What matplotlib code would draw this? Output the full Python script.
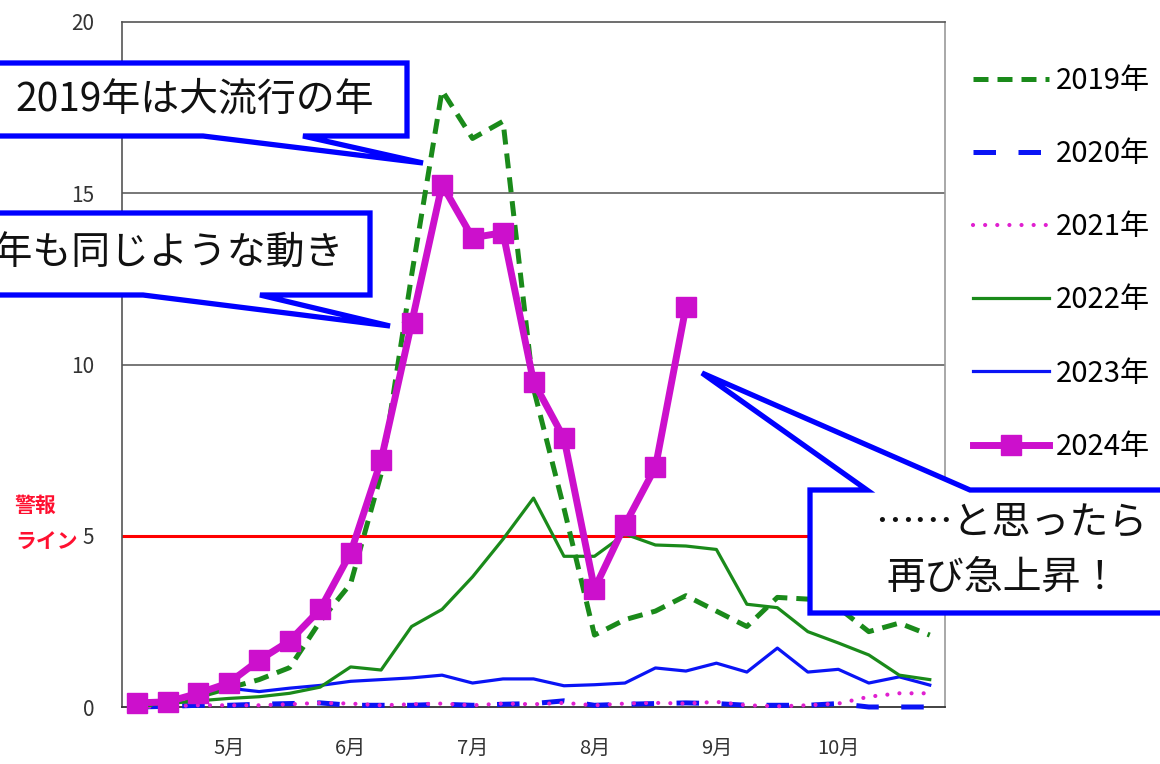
import numpy as np
import matplotlib.pyplot as plt
from matplotlib.patches import Polygon
from matplotlib.lines import Line2D

plt.rcParams['font.family'] = ['Noto Sans CJK JP', 'DejaVu Sans']

# weekly values, early April to late October
y2019 = [0.05, 0.1, 0.3, 0.55, 0.8, 1.15, 2.5, 3.6, 6.8, 12.6, 18.0, 16.6, 17.1, 9.3, 5.8,
         2.1, 2.55, 2.8, 3.25, 2.8, 2.35, 3.2, 3.15, 2.9, 2.2, 2.45, 2.1]
y2020 = [0.0, 0.02, 0.05, 0.05, 0.08, 0.1, 0.12, 0.05, 0.05, 0.05, 0.08, 0.05, 0.08, 0.1, 0.18,
         0.05, 0.08, 0.1, 0.12, 0.1, 0.05, 0.05, 0.05, 0.1, 0.0, 0.0, 0.0]
y2021 = [0.0, 0.02, 0.05, 0.05, 0.05, 0.08, 0.12, 0.1, 0.05, 0.08, 0.1, 0.05, 0.1, 0.08, 0.12,
         0.05, 0.1, 0.12, 0.1, 0.15, 0.05, 0.02, 0.05, 0.1, 0.3, 0.4, 0.4]
y2022 = [0.05, 0.1, 0.18, 0.25, 0.3, 0.4, 0.58, 1.17, 1.08, 2.35, 2.85, 3.8, 4.9, 6.1, 4.4,
         4.4, 5.05, 4.73, 4.7, 4.6, 3.0, 2.9, 2.2, 1.87, 1.52, 0.93, 0.8]
y2023 = [0.1, 0.15, 0.35, 0.55, 0.45, 0.55, 0.63, 0.75, 0.8, 0.85, 0.93, 0.7, 0.82, 0.82, 0.62,
         0.65, 0.7, 1.14, 1.05, 1.28, 1.02, 1.72, 1.02, 1.1, 0.7, 0.88, 0.64]
y2024 = [0.12, 0.15, 0.4, 0.7, 1.37, 1.93, 2.85, 4.5, 7.2, 11.2, 15.25, 13.7, 13.85, 9.5, 7.85,
         3.45, 5.32, 7.0, 11.68]

month_pos = [3, 7, 11, 15, 19, 23]
month_labels = ['5月', '6月', '7月', '8月', '9月', '10月']
alert_level = 5
grid_levels = [10, 15]

W, H = 1160, 764
fig = plt.figure(figsize=(W / 100, H / 100), dpi=100)
ax = fig.add_axes([122 / W, 1 - 707 / H, (945 - 122) / W, (707 - 22) / H])

x = np.arange(len(y2019))
green = '#1a8a1a'
blue = '#0a14f5'
mag = '#cc10cc'

ax.plot(x, y2020, color=blue, lw=3.6, dashes=(4.5, 4.5), clip_on=False, zorder=3)
ax.plot(x, y2021, color='#e020d0', lw=3.0, dashes=(0.01, 2.9), dash_capstyle='round',
        clip_on=False, zorder=3)
ax.plot(x, y2023, color=blue, lw=2.3, clip_on=False, zorder=3)
ax.plot(x, y2022, color=green, lw=2.3, clip_on=False, zorder=3)
ax.plot(x, y2019, color=green, lw=3.6, dashes=(3, 1.8), clip_on=False, zorder=4)
ax.plot(np.arange(len(y2024)), y2024, color=mag, lw=5, marker='s', ms=14,
        clip_on=False, zorder=5)

for g in grid_levels:
    ax.axhline(g, color='#606060', lw=1.2, zorder=1)
ax.axhline(alert_level, color='#ff0000', lw=2.2, zorder=2)

ax.set_xlim(-0.5, len(x) - 0.5)
ax.set_ylim(0, 20)
ax.set_yticks([0, 5, 10, 15, 20])
ax.set_xticks(month_pos)
ax.set_xticklabels(month_labels)
ax.tick_params(axis='y', length=0, pad=20, labelsize=15, labelcolor='#333333')
ax.tick_params(axis='x', length=0, pad=22, labelsize=14.5, labelcolor='#333333')
for side in ['left', 'top']:
    ax.spines[side].set_color('#555555')
    ax.spines[side].set_linewidth(1.2)
ax.spines['bottom'].set_color('#333333')
ax.spines['bottom'].set_linewidth(1.3)
ax.spines['right'].set_color('#999999')
ax.spines['right'].set_linewidth(1.2)

fig.text(15 / W, 1 - 505 / H, '警報', color='#ff1030', fontsize=15, fontweight='bold',
         va='center', ha='left')
fig.text(15 / W, 1 - 541 / H, 'ライン', color='#ff1030', fontsize=15, fontweight='bold',
         va='center', ha='left')

handles = [
    Line2D([], [], color=green, lw=3.6, dashes=(3, 1.8)),
    Line2D([], [], color=blue, lw=3.6, dashes=(4.5, 4.5)),
    Line2D([], [], color='#e020d0', lw=3.0, dashes=(0.01, 2.9), dash_capstyle='round'),
    Line2D([], [], color=green, lw=2.3),
    Line2D([], [], color=blue, lw=2.3),
    Line2D([], [], color=mag, lw=5, marker='s', ms=14),
]
labels = ['2019年', '2020年', '2021年', '2022年', '2023年', '2024年']
fig.legend(handles, labels, loc='upper left', bbox_to_anchor=(973 / W, 1 - 66 / H),
           frameon=False, fontsize=21, handlelength=2.6, handletextpad=0.25,
           labelspacing=1.48, borderaxespad=0, borderpad=0)

# callouts drawn on a pixel-space overlay
ov = fig.add_axes([0, 0, 1, 1], zorder=10)
ov.set_xlim(0, W)
ov.set_ylim(H, 0)
ov.axis('off')
ov.patch.set_alpha(0)

boxes = [
    [(-10, 63), (407, 63), (407, 136), (303, 136), (423, 163), (203, 136), (-10, 136)],
    [(-10, 213), (370, 213), (370, 295), (260, 295), (390, 326), (143, 295), (-10, 295)],
    [(810, 490), (867, 490), (702, 373), (970, 490), (1180, 490), (1180, 613), (810, 613)],
]
for pts in boxes:
    ov.add_patch(Polygon(pts, closed=True, facecolor='white', edgecolor='#0000ff',
                         lw=3.8, joinstyle='miter'))

ov.text(374, 99, '2019年は大流行の年', fontsize=28, ha='right', va='center', color='#111111')
ov.text(344, 254, '2024年も同じような動き', fontsize=28, ha='right', va='center', color='#111111')
ov.text(1147, 522, '……と思ったら', fontsize=28, ha='right', va='center', color='#111111')
ov.text(1120, 578, '再び急上昇！', fontsize=28, ha='right', va='center', color='#111111')

fig.savefig('out.png', dpi=100, facecolor='white')
